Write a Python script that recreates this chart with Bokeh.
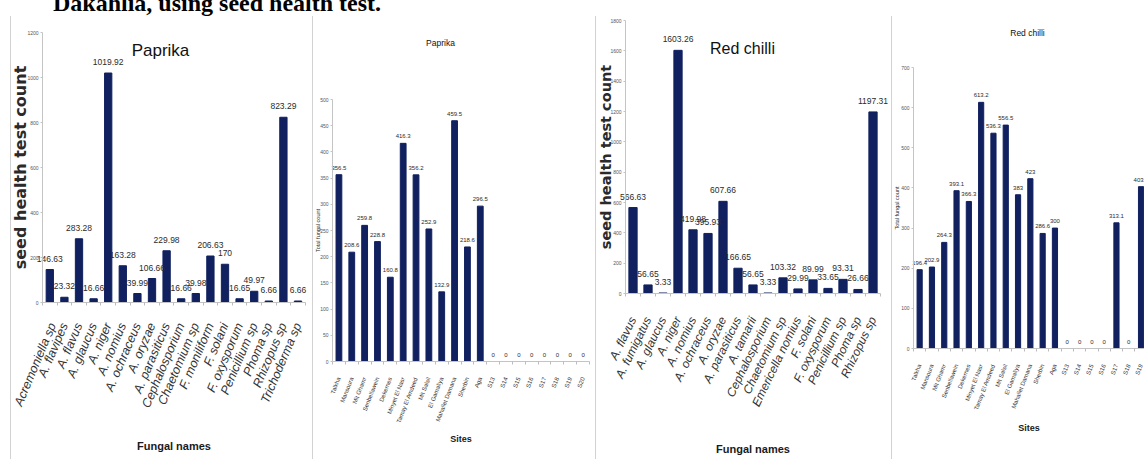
from bokeh.plotting import figure
from bokeh.models import (Range1d, FixedTicker, Label, Div, Spacer,
                          ColumnDataSource, CustomJSTickFormatter)
from bokeh.layouts import row, column
from bokeh.core.properties import value
from bokeh.embed import file_html
from bokeh.resources import INLINE

# --- Paprika: fungi recovered by the seed health test -----------------------
paprika_fungi = ["Acremoniella sp", "A. flavipes", "A. flavus", "A. glaucus",
                 "A. niger", "A. nomius", "A. ochraceus", "A. oryzae",
                 "A. parasiticus", "Cephalosporium", "Chaetomium sp",
                 "F. moniliform", "F. solani", "F. oxysporum", "Penicillium sp",
                 "Phoma sp", "Rhizopus sp", "Trichoderma sp"]
paprika_fungi_counts = [146.63, 23.32, 283.28, 16.66, 1019.92, 163.28, 39.99,
                        106.66, 229.98, 16.66, 39.98, 206.63, 170, 16.65,
                        49.97, 6.66, 823.29, 6.66]

# --- Sampling sites in Dakahlia --------------------------------------------
sites = ["Talkha", "Mansoura", "Mit Ghamr", "Senbellawein", "Dekernes",
         "Minyet El Nasr", "Tamay El Amdeed", "Mit Salsil", "El Gamaliya",
         "Mahallet Damana", "Sherbin", "Aga", "S13", "S14", "S15", "S16",
         "S17", "S18", "S19", "S20"]
paprika_site_counts = [356.5, 208.6, 259.8, 228.8, 160.8, 416.3, 356.2, 252.9,
                       132.9, 459.5, 218.6, 296.5, 0, 0, 0, 0, 0, 0, 0, 0]

# --- Red chilli --------------------------------------------------------------
chilli_fungi = ["A. flavus", "A. fumigatus", "A. glaucus", "A. niger",
                "A. nomius", "A. ochraceus", "A. oryzae", "A. parasiticus",
                "A. tamarii", "Cephalosporium", "Chaetomium sp",
                "Emericella nomius", "F. solani", "F. oxysporum",
                "Penicillium sp", "Phoma sp", "Rhizopus sp"]
chilli_fungi_counts = [566.63, 56.65, 3.33, 1603.26, 419.98, 395.93, 607.66,
                       166.65, 56.65, 3.33, 103.32, 29.99, 89.99, 33.65, 93.31,
                       26.66, 1197.31]
chilli_site_counts = [196.4, 202.9, 264.3, 393.1, 366.3, 613.2, 536.3, 556.5,
                      383, 423, 286.6, 300, 0, 0, 0, 0, 313.1, 0, 403.2]

BAR = "#11205f"
SANS = "Liberation Sans"
H = 443          # figure height (page height minus the heading strip)
PAGE_BOTTOM = H + 16


def panel(names, counts, *, fig_left, width, axis_x, axis_y, top_y, step,
          ymax, ystep, bar_width, label_size, label_offset, tick_size,
          cat_size, cat_style, cat_angle, cat_standoff, xlabel, xlabel_size,
          xlabel_standoff, ylabel, ylabel_font, ylabel_size, ylabel_style,
          ylabel_standoff, title, title_size, title_xy):
    """One bar panel; both axes sit at data 0 inside a frame that fills the figure."""
    n = len(names)
    ppu = (axis_y - top_y) / ymax                      # pixels per count unit
    x0 = -(axis_x - fig_left) / step
    x1 = (fig_left + width - axis_x) / step
    y0 = -(PAGE_BOTTOM - axis_y) / ppu
    y1 = ymax + (top_y - 16) / ppu

    xs = [i + 0.5 for i in range(len(counts))]
    src = ColumnDataSource(dict(x=xs, v=counts,
                                lab=[f"{c:g}" for c in counts]))
    p = figure(width=width, height=H, output_backend="svg",
               toolbar_location=None,
               x_range=Range1d(x0, x1), y_range=Range1d(y0, y1),
               min_border=0)
    p.xgrid.visible = False
    p.ygrid.visible = False
    p.outline_line_color = None

    p.vbar(x="x", top="v", width=bar_width, source=src, color=BAR)
    p.text(x="x", y="v", text="lab", source=src, text_align="center",
           text_baseline="bottom", y_offset=-label_offset,
           text_font=value(SANS), text_font_size=label_size,
           text_color="#2b2b2b")

    xa = p.xaxis[0]
    xa.fixed_location = 0
    xa.bounds = (0, min(n, x1))
    xa.ticker = FixedTicker(ticks=xs, minor_ticks=list(range(n + 1)))
    xa.formatter = CustomJSTickFormatter(args=dict(names=names),
                                         code="return names[Math.floor(tick)] || ''")
    xa.major_label_orientation = cat_angle
    xa.major_label_standoff = cat_standoff
    xa.major_label_text_font = SANS
    xa.major_label_text_font_style = cat_style
    xa.major_label_text_font_size = cat_size
    xa.major_label_text_color = "#333333"
    xa.major_tick_line_color = None
    xa.minor_tick_line_color = "#bdbdbd"
    xa.minor_tick_in = 0
    xa.minor_tick_out = 3
    xa.axis_line_color = "#c4c4c4"
    xa.axis_label = xlabel
    xa.axis_label_text_font = SANS
    xa.axis_label_text_font_style = "bold"
    xa.axis_label_text_font_size = xlabel_size
    xa.axis_label_text_color = "#1a1a1a"
    xa.axis_label_standoff = xlabel_standoff

    ya = p.yaxis[0]
    ya.fixed_location = 0
    ya.bounds = (0, ymax)
    ya.ticker = FixedTicker(ticks=list(range(0, ymax + 1, ystep)))
    ya.minor_tick_line_color = None
    ya.major_tick_in = 0
    ya.major_tick_out = 2
    ya.major_tick_line_color = "#c4c4c4"
    ya.axis_line_color = "#c4c4c4"
    ya.major_label_text_font = SANS
    ya.major_label_text_font_size = tick_size
    ya.major_label_text_color = "#555555"
    ya.major_label_standoff = 2
    ya.axis_label = ylabel
    ya.axis_label_text_font = ylabel_font
    ya.axis_label_text_font_style = ylabel_style
    ya.axis_label_text_font_size = ylabel_size
    ya.axis_label_text_color = "#2a2a2a"
    ya.axis_label_standoff = ylabel_standoff

    # chart title, placed in screen pixels relative to the axes origin
    tx = (title_xy[0] - axis_x) / step
    ty = (axis_y - title_xy[1]) / ppu
    p.add_layout(Label(x=tx, y=ty, text=title, text_align="center",
                       text_baseline="middle", text_font=SANS,
                       text_font_size=title_size, text_color="#111111"))
    return p


p1 = panel(paprika_fungi, paprika_fungi_counts, fig_left=11, width=301,
           axis_x=42, axis_y=302, top_y=32, step=14.6, ymax=1200, ystep=200,
           bar_width=0.5, label_size="8.5px", label_offset=8, tick_size="5px",
           cat_size="12.5px", cat_style="italic", cat_angle=1.17,
           cat_standoff=15, xlabel="Fungal names", xlabel_size="11px",
           xlabel_standoff=24, ylabel="seed health test count",
           ylabel_font="DejaVu Sans", ylabel_size="16px", ylabel_style="bold",
           ylabel_standoff=-6, title="Paprika", title_size="17px",
           title_xy=(160, 50))

p2 = panel(sites, paprika_site_counts, fig_left=313, width=282,
           axis_x=332, axis_y=361, top_y=99, step=12.85, ymax=500, ystep=50,
           bar_width=0.45, label_size="6px", label_offset=5, tick_size="5px",
           cat_size="6px", cat_style="normal", cat_angle=1.2,
           cat_standoff=10, xlabel="Sites", xlabel_size="9px",
           xlabel_standoff=6, ylabel="Total fungal count", ylabel_font=SANS,
           ylabel_size="5.5px", ylabel_style="normal", ylabel_standoff=-4,
           title="Paprika", title_size="8.5px", title_xy=(440, 42))

p3 = panel(chilli_fungi, chilli_fungi_counts, fig_left=596, width=295,
           axis_x=625, axis_y=293, top_y=20, step=15, ymax=1800, ystep=200,
           bar_width=0.55, label_size="8.5px", label_offset=8, tick_size="5px",
           cat_size="12px", cat_style="italic", cat_angle=1.12,
           cat_standoff=18, xlabel="Fungal names", xlabel_size="11px",
           xlabel_standoff=28, ylabel="seed health test count",
           ylabel_font="DejaVu Sans", ylabel_size="14.5px", ylabel_style="bold",
           ylabel_standoff=-7, title="Red chilli", title_size="16px",
           title_xy=(742, 48))

p4 = panel(sites[:len(chilli_site_counts)], chilli_site_counts, fig_left=892,
           width=252, axis_x=913, axis_y=348, top_y=67, step=12.3, ymax=700,
           ystep=100, bar_width=0.42, label_size="6px", label_offset=5,
           tick_size="5px", cat_size="6px", cat_style="normal",
           cat_angle=1.2, cat_standoff=10, xlabel="Sites", xlabel_size="9px",
           xlabel_standoff=8, ylabel="Total fungal count", ylabel_font=SANS,
           ylabel_size="5.5px", ylabel_style="normal", ylabel_standoff=-2,
           title="Red chilli", title_size="8.5px", title_xy=(1027, 32))


def rule():
    return Spacer(width=1, height=H, margin=0,
                  styles={"background-color": "#d2d2d2"})


heading = Div(text=('<div style="position:relative;top:-9px;left:53px;'
                    'font:bold 24px \'Liberation Serif\',serif;line-height:24px;'
                    'white-space:nowrap;color:#000">'
                    'Dakahlia, using seed health test.</div>'),
              width=1144, height=16, margin=0, styles={"overflow": "hidden"})

body = row(Spacer(width=10, height=H, margin=0), rule(), p1, rule(), p2,
           rule(), p3, rule(), p4, spacing=0)
layout = column(heading, body, spacing=0)

open("out.html", "w").write(file_html(layout, INLINE))
